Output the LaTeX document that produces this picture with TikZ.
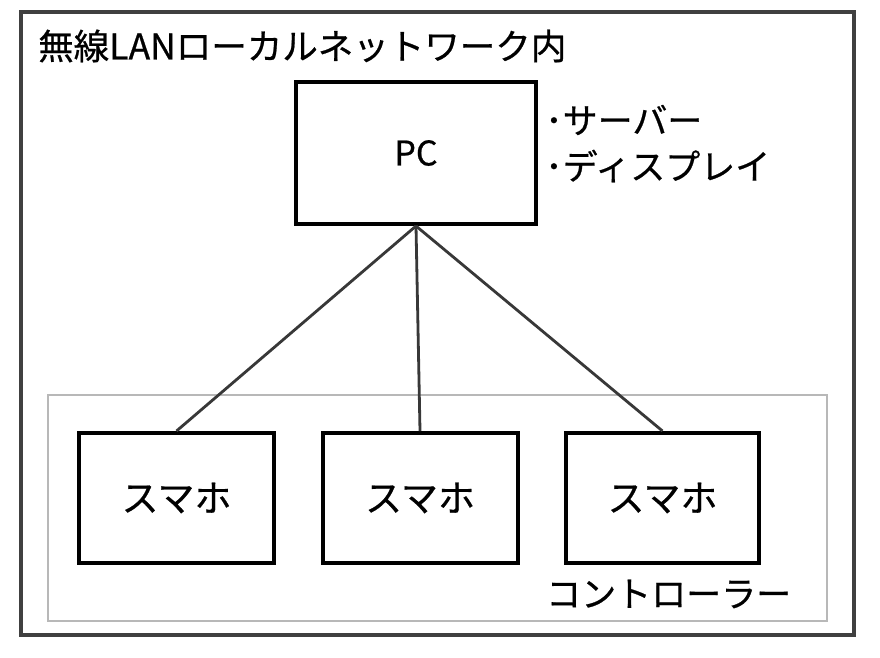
\documentclass[tikz,border=0pt]{standalone}
\usepackage{fontspec}
\setmainfont{Noto Sans CJK JP}[FakeBold=0.6]
\begin{document}
\begin{tikzpicture}[x=1pt,y=-1pt,
  box/.style={draw=black,line width=4pt,minimum width=#1,inner sep=0pt,font=\fontsize{37}{44}\selectfont},
  txt/.style={inner sep=0pt,anchor=west,font=\fontsize{35}{42}\selectfont},
  link/.style={draw=black!78,line width=2.8pt}]
\useasboundingbox (0,0) rectangle (880,657);
\fill[white] (0,0) rectangle (880,657);
\draw[draw=black!75,line width=3.2pt] (21,12) rectangle (854,635);
\draw[draw=black!28,line width=1.6pt] (48,395) rectangle (827,621);
\node[txt,font=\fontsize{35.5}{42}\selectfont] (title) at (38,46) {無線LANローカルネットワーク内};
\node[box=240pt,minimum height=142pt,font=\fontsize{34}{40}\selectfont] (pc) at (416,153) {PC};
\node[txt] (srv) at (545,120) {･サーバー};
\node[txt] (disp) at (545,166) {･ディスプレイ};
\node[box=195pt,minimum height=130pt] (s1) at (176.5,498) {スマホ};
\node[box=195pt,minimum height=130pt] (s2) at (420,498) {スマホ};
\node[box=193pt,minimum height=130pt] (s3) at (662.5,498) {スマホ};
\node[txt] (ctrl) at (546,594) {コントローラー};
\draw[link] (pc.south) -- (s1.north);
\draw[link] (pc.south) -- (s2.north);
\draw[link] (pc.south) -- (s3.north);
\end{tikzpicture}
\end{document}
